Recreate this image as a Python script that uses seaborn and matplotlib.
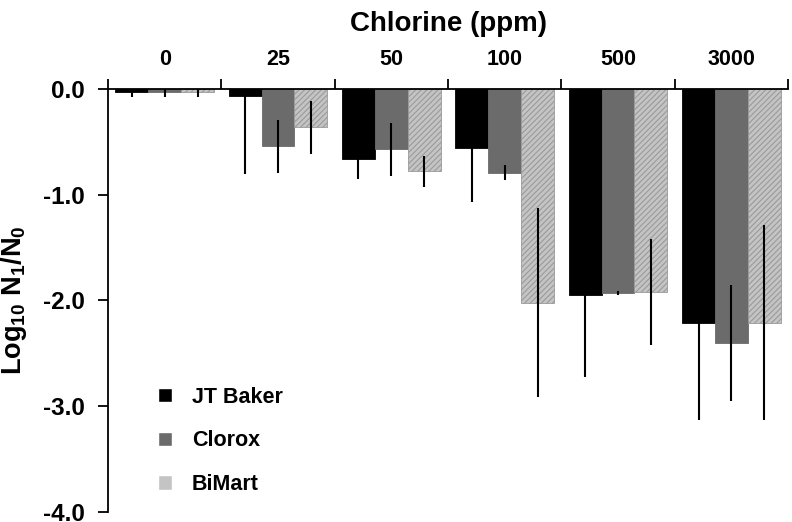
import numpy as np
import pandas as pd
import matplotlib
matplotlib.use('Agg')
import matplotlib.pyplot as plt
import seaborn as sns

# values
doses = ['0', '25', '50', '100', '500', '3000']
sources = ['JT Baker', 'Clorox', 'BiMart']
jt_baker = [-0.03, -0.07, -0.66, -0.56, -1.95, -2.21]
clorox = [-0.03, -0.54, -0.57, -0.79, -1.93, -2.40]
bimart = [-0.03, -0.36, -0.78, -2.02, -1.92, -2.21]
jt_baker_err = [0.05, 0.73, 0.19, 0.51, 0.77, 0.92]
clorox_err = [0.05, 0.25, 0.25, 0.07, 0.02, 0.55]
bimart_err = [0.05, 0.25, 0.15, 0.89, 0.50, 0.92]

sns.set_style('ticks')
plt.rcParams['font.family'] = ['Liberation Sans', 'DejaVu Sans']
plt.rcParams['font.weight'] = 'bold'
plt.rcParams['text.color'] = 'black'
plt.rcParams['axes.labelcolor'] = 'black'
plt.rcParams['xtick.color'] = 'black'
plt.rcParams['ytick.color'] = 'black'
plt.rcParams['axes.edgecolor'] = 'black'
plt.rcParams['mathtext.fontset'] = 'custom'
plt.rcParams['mathtext.rm'] = 'Liberation Sans:bold'
plt.rcParams['mathtext.default'] = 'rm'
plt.rcParams['hatch.color'] = '#8a8a8a'
plt.rcParams['hatch.linewidth'] = 0.8

df = pd.DataFrame({
    'dose': doses * 3,
    'source': [s for s in sources for _ in doses],
    'value': jt_baker + clorox + bimart,
    'err': jt_baker_err + clorox_err + bimart_err,
})

colors = {'JT Baker': '#000000', 'Clorox': '#6b6b6b', 'BiMart': '#c4c4c4'}

fig = plt.figure(figsize=(7.92, 5.22), dpi=100)
ax = fig.add_axes([0.1364, 0.0192, 0.8586, 0.8103])

sns.barplot(data=df, x='dose', y='value', hue='source', order=doses,
            hue_order=sources, palette=colors, errorbar=None, width=0.87,
            saturation=1, ax=ax, zorder=2)

errs = {'JT Baker': jt_baker_err, 'Clorox': clorox_err, 'BiMart': bimart_err}
vals = {'JT Baker': jt_baker, 'Clorox': clorox, 'BiMart': bimart}
for cont, src in zip(ax.containers, sources):
    xs = [p.get_x() + p.get_width() / 2 for p in cont.patches]
    if src == 'BiMart':
        for p in cont.patches:
            p.set_hatch('//////')
            p.set_edgecolor('#9a9a9a')
            p.set_linewidth(0.6)
    else:
        for p in cont.patches:
            p.set_edgecolor(colors[src])
            p.set_linewidth(0.6)
    ax.errorbar(xs, vals[src], yerr=errs[src], fmt='none', ecolor='black',
                elinewidth=1.5, capsize=0, zorder=3)

ax.set_xlim(-0.5, 5.5)
ax.set_ylim(-4.0, 0.0)
ax.set_yticks([0.0, -1.0, -2.0, -3.0, -4.0])
ax.set_yticklabels(['0.0', '-1.0', '-2.0', '-3.0', '-4.0'])

ax.xaxis.tick_top()
ax.xaxis.set_label_position('top')
ax.set_xticks(range(len(doses)))
ax.set_xticklabels(doses)
ax.set_xticks(np.arange(-0.5, 6.0, 1.0), minor=True)
ax.tick_params(axis='x', which='major', length=0, pad=14, labelsize=15.5)
ax.tick_params(axis='x', which='minor', length=7, width=1.3, direction='out')
ax.tick_params(axis='y', length=7, width=1.3, direction='out', labelsize=17.5, pad=10)
for lbl in ax.get_xticklabels() + ax.get_yticklabels():
    lbl.set_fontweight('bold')

ax.spines['right'].set_visible(False)
ax.spines['bottom'].set_visible(False)
ax.spines['left'].set_linewidth(1.3)
ax.spines['top'].set_linewidth(1.3)

ax.set_xlabel('Chlorine (ppm)', fontsize=20, fontweight='bold', labelpad=13)
ax.set_ylabel(r'Log$_{10}$ N$_{1}$/N$_{0}$', fontsize=19.5, fontweight='bold', labelpad=10)

handles, labels = ax.get_legend_handles_labels()
ax.legend(handles, labels, loc='center left', bbox_to_anchor=(0.045, 0.168),
          frameon=False, handlelength=0.65, handleheight=0.65, handletextpad=0.93,
          labelspacing=1.06, prop={'weight': 'bold', 'size': 15.5})

fig.savefig('out.png', dpi=100)
